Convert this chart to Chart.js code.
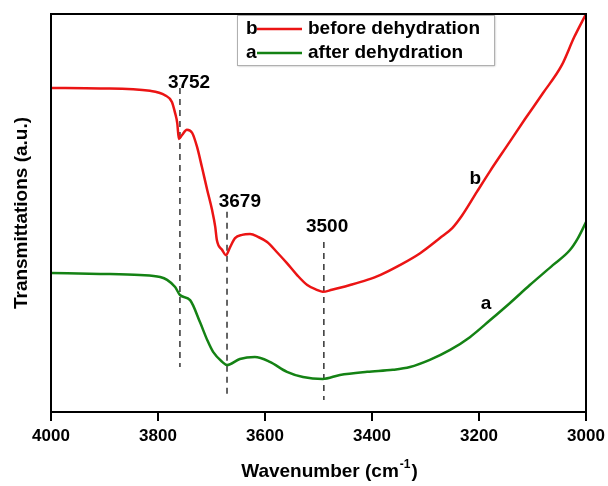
<!DOCTYPE html>
<html>
<head>
<meta charset="utf-8">
<script src="https://cdn.jsdelivr.net/npm/chart.js@4.4.1/dist/chart.umd.min.js"></script>
<style>
    body { margin: 0; background: #fff; }
</style>
</head>
<body>
<canvas id="ftirChart" width="608" height="486"></canvas>
<script>
// Curve b - before dehydration
const wavenumberB = [4000, 3908, 3815, 3787, 3774, 3768, 3764, 3761, 3755, 3746, 3736, 3727, 3718, 3708, 3699, 3693, 3690, 3680, 3673, 3665, 3656, 3643, 3628, 3613, 3596, 3578, 3559, 3540, 3521, 3503, 3492, 3475, 3460, 3441, 3409, 3385, 3348, 3310, 3273, 3250, 3232, 3204, 3179, 3148, 3114, 3080, 3045, 3022, 3000];
const transB = [81.4, 81.3, 80.7, 79.6, 77.9, 75.1, 72.6, 68.6, 69.6, 70.9, 70.1, 66.6, 61.6, 55.8, 50.8, 46.5, 43.2, 40.7, 39.4, 41.5, 43.7, 44.5, 44.7, 44.0, 42.7, 40.2, 37.4, 34.4, 31.9, 30.7, 30.2, 30.7, 31.2, 31.9, 33.2, 34.4, 36.9, 39.9, 43.7, 46.2, 49.3, 55.3, 60.6, 66.8, 73.6, 80.2, 87.2, 94.2, 100];

// Curve a - after dehydration
const wavenumberA = [4000, 3908, 3834, 3796, 3783, 3768, 3759, 3740, 3721, 3708, 3697, 3680, 3671, 3647, 3619, 3591, 3559, 3529, 3492, 3460, 3409, 3361, 3329, 3292, 3254, 3217, 3179, 3142, 3105, 3062, 3030, 3015, 3000];
const transA = [34.9, 34.7, 34.4, 33.9, 33.2, 31.4, 29.4, 28.1, 22.4, 18.1, 15.1, 12.6, 11.8, 13.3, 13.8, 12.6, 10.1, 8.8, 8.3, 9.3, 10.1, 10.6, 11.3, 13.1, 15.6, 18.8, 23.1, 27.4, 31.9, 36.9, 40.7, 43.7, 47.7];

// Peak markers (dashed lines)
const peakLabels = ['3752', '3679', '3500'];
const peakPositions = [3759, 3671, 3490];
const peakTop = [81.4, 50.3, 42.7];
const peakBottom = [11.3, 4.3, 3.0];

const xTicks = [4000, 3800, 3600, 3400, 3200, 3000];
const seriesTags = ['b', 'a'];
const seriesNames = ['before dehydration', 'after dehydration'];
const seriesColors = ['rgb(235, 20, 20)', 'rgb(20, 130, 20)'];

const FONT = '"Liberation Sans", Arial, sans-serif';

function toPoints(xs, ys) {
    return xs.map((x, i) => ({ x: x, y: ys[i] }));
}

// where the text labels sit, in data units
const peakTextPos = [[3742, 82.7], [3647, 52.8], [3484, 46.5]];
const curveTagPos = [[3207, 58.5], [3187, 27.1]];

const extrasPlugin = {
    id: 'extras',
    afterDatasetsDraw(chart) {
        const ctx = chart.ctx;
        const area = chart.chartArea;
        const xs = chart.scales.x;
        const ys = chart.scales.y;
        ctx.save();

        // frame
        ctx.strokeStyle = '#000';
        ctx.lineWidth = 2;
        ctx.strokeRect(area.left, area.top, area.right - area.left, area.bottom - area.top);

        // peak labels and curve tags
        ctx.fillStyle = '#000';
        ctx.textAlign = 'center';
        ctx.textBaseline = 'middle';
        ctx.font = 'bold 19px ' + FONT;
        peakLabels.forEach((t, i) => {
            ctx.fillText(t, xs.getPixelForValue(peakTextPos[i][0]), ys.getPixelForValue(peakTextPos[i][1]));
        });
        seriesTags.forEach((t, i) => {
            ctx.fillText(t, xs.getPixelForValue(curveTagPos[i][0]), ys.getPixelForValue(curveTagPos[i][1]));
        });

        // legend box
        const lx = 237, ly = 15, lw = 257, lh = 50;
        ctx.shadowColor = 'rgba(0,0,0,0.35)';
        ctx.shadowBlur = 2;
        ctx.shadowOffsetX = 1;
        ctx.shadowOffsetY = 1;
        ctx.fillStyle = '#fff';
        ctx.fillRect(lx, ly, lw, lh);
        ctx.shadowColor = 'transparent';
        ctx.strokeStyle = '#b0b0b0';
        ctx.lineWidth = 1;
        ctx.strokeRect(lx + 0.5, ly + 0.5, lw, lh);

        ctx.textAlign = 'left';
        seriesTags.forEach((t, i) => {
            const rowY = ly + 14 + i * 24;
            ctx.fillStyle = '#000';
            ctx.fillText(t, lx + 9, rowY);
            ctx.strokeStyle = seriesColors[i];
            ctx.lineWidth = 2.5;
            ctx.beginPath();
            ctx.moveTo(lx + 20, rowY);
            ctx.lineTo(lx + 65, rowY);
            ctx.stroke();
            ctx.fillText(seriesNames[i], lx + 71, rowY);
        });

        // x axis title with superscript
        const mainFont = 'bold 19px ' + FONT;
        const supFont = 'bold 12px ' + FONT;
        ctx.font = mainFont;
        const p1 = 'Wavenumber (cm', p3 = ')';
        const w1 = ctx.measureText(p1).width;
        const w3 = ctx.measureText(p3).width;
        ctx.font = supFont;
        const w2 = ctx.measureText('-1').width;
        let tx = (area.left + area.right) / 2 + 10 - (w1 + w2 + w3) / 2;
        const base = 477;
        ctx.textBaseline = 'alphabetic';
        ctx.fillStyle = '#000';
        ctx.font = mainFont;
        ctx.fillText(p1, tx, base);
        ctx.font = supFont;
        ctx.fillText('-1', tx + w1 + 1, base - 9);
        ctx.font = mainFont;
        ctx.fillText(p3, tx + w1 + w2 + 2, base);

        ctx.restore();
    }
};

const datasets = [
    {
        data: toPoints(wavenumberB, transB),
        borderColor: seriesColors[0],
        borderWidth: 2.5,
        cubicInterpolationMode: 'monotone'
    },
    {
        data: toPoints(wavenumberA, transA),
        borderColor: seriesColors[1],
        borderWidth: 2.5,
        cubicInterpolationMode: 'monotone'
    }
];
peakPositions.forEach((p, i) => {
    datasets.push({
        data: [{ x: p, y: peakTop[i] }, { x: p, y: peakBottom[i] }],
        borderColor: '#333',
        borderWidth: 1.5,
        borderDash: [6, 5]
    });
});

new Chart(document.getElementById('ftirChart').getContext('2d'), {
    type: 'line',
    data: { datasets: datasets },
    options: {
        responsive: false,
        animation: false,
        layout: { padding: { top: 14, right: 22, left: 0, bottom: 0 } },
        elements: { point: { radius: 0 } },
        plugins: {
            legend: { display: false },
            tooltip: { enabled: false }
        },
        scales: {
            x: {
                type: 'linear',
                reverse: true,
                min: 3000,
                max: 4000,
                afterBuildTicks: axis => { axis.ticks = xTicks.map(v => ({ value: v })); },
                afterFit: axis => {
                    axis.height = 74;
                    axis.paddingLeft = 0;
                    axis.paddingRight = 0;
                },
                ticks: {
                    color: '#000',
                    padding: 5,
                    maxRotation: 0,
                    callback: value => String(value),
                    font: { family: FONT, size: 17, weight: 'bold' }
                },
                grid: {
                    drawOnChartArea: false,
                    drawTicks: true,
                    tickLength: 9,
                    color: '#000',
                    lineWidth: 2
                },
                border: { display: true, color: '#000', width: 2 }
            },
            y: {
                min: 0,
                max: 100,
                afterFit: axis => { axis.width = 51; },
                ticks: { display: false },
                grid: { display: false },
                border: { display: false },
                title: {
                    display: true,
                    text: 'Transmittations (a.u.)',
                    color: '#000',
                    padding: { top: 10, bottom: 0 },
                    font: { family: FONT, size: 19, weight: 'bold' }
                }
            }
        }
    },
    plugins: [extrasPlugin]
});
</script>
</body>
</html>
